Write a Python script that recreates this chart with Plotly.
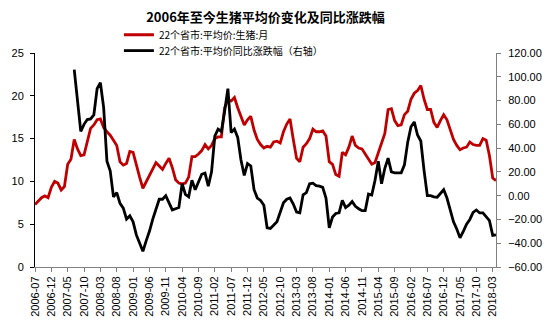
import plotly.graph_objects as go

# monthly categories 2006-07 .. 2018-04
months = []
y, m = 2006, 7
while (y, m) <= (2018, 4):
    months.append(f"{y}-{m:02d}")
    m += 1
    if m > 12:
        m = 1
        y += 1

price = [7.3, 7.7, 8.1, 8.3, 8.1, 9.3, 10.0, 9.8, 9.0, 9.4, 12.0, 12.6,
         14.9, 13.8, 13.0, 13.1, 14.8, 16.2, 16.6, 17.2, 17.3, 16.3, 15.8, 15.4,
         14.8, 14.2, 12.3, 11.9, 12.1, 13.5, 13.4, 11.8, 10.5, 9.2, 10.0, 10.6,
         11.5, 12.2, 11.8, 11.4, 12.1, 12.7, 11.6, 10.2, 9.8, 9.7, 9.8, 10.5,
         12.9, 12.9, 13.2, 13.6, 14.3, 13.8, 14.2, 15.0, 15.2, 15.2, 18.6, 19.5,
         19.4, 19.8, 18.6, 17.5, 16.6, 17.2, 17.6, 16.0, 14.9, 14.3, 13.9, 14.1,
         14.0, 14.6, 14.7, 14.5, 15.8, 16.7, 17.3, 14.9, 12.7, 12.3, 14.0, 14.4,
         15.0, 16.1, 15.8, 15.8, 15.9, 15.3, 12.3, 12.0, 10.8, 10.6, 13.4, 13.1,
         14.0, 15.3, 14.2, 13.9, 13.8, 13.2, 12.6, 12.0, 12.2, 13.4, 14.6, 15.6,
         18.4, 18.5, 17.1, 16.5, 16.6, 17.8, 18.2, 19.6, 20.3, 20.6, 21.2, 19.6,
         18.4, 18.4, 16.9, 16.3, 17.1, 17.8, 17.2, 16.0, 14.9, 14.2, 13.7, 13.9,
         14.0, 14.6, 14.3, 14.2, 14.2, 15.0, 14.8, 13.0, 10.4, 10.1]

yoy = [None] * 12 + [
    106, 80, 54, 60, 64, 64.5, 68, 90, 95, 74, 29, 21,
    -1, 2.6, -6.5, -10.5, -19.7, -17, -22, -33, -39.5, -46.8, -38, -30,
    -20, -12, -3, -3, 0, -6, -12, -11, -10, 10, 1, -1,
    13, 5, 12, 18, 19, 8, 20, 50, 56, 54, 71, 90,
    53, 56, 49, 30, 17, 27, 25, 5, -2, -4, -8, -27,
    -27.6, -25, -22, -14, -6, -3, -2, -7, -13.7, -14.4, 0.8, 2.6,
    10, 10.5, 8.4, 8, 7, -2, -27, -18, -15, -14.4, -4, -10,
    -8, -5, -9, -11, -12.6, -12.6, 1.3, 0.5, 13, 29, 10, 23,
    31.6, 20, 19.2, 19.2, 19.2, 26, 45, 58, 62, 51, 46, 21,
    0, 0, -1, -1.3, 2, 5, -2, -12, -22, -28, -35.5, -30,
    -24, -20, -14, -12, -14.5, -14.5, -18, -21, -33.5, -33]

tick_labels = months[::5]

name_price = "22个省市:平均价:生猪:月"
name_yoy = "22个省市:平均价同比涨跌幅（右轴）"
title_text = "2006年至今生猪平均价变化及同比涨跌幅"

fig = go.Figure()
fig.add_trace(go.Scatter(x=months, y=price, name=name_price, mode="lines",
                         line=dict(color="#c00000", width=2.8), legend="legend"))
fig.add_trace(go.Scatter(x=months, y=yoy, name=name_yoy, mode="lines",
                         line=dict(color="#000000", width=2.8), yaxis="y2",
                         legend="legend2"))

axis_font = dict(family="Liberation Sans, Arial", size=11, color="#000")
leg_font = dict(family="Noto Sans CJK SC", size=10, color="#000")
fig.update_layout(
    width=554, height=329,
    margin=dict(l=33, r=48, t=53, b=48),
    paper_bgcolor="white", plot_bgcolor="white",
    title=dict(text=f"<b>{title_text}</b>", x=0.5, xref="paper",
               y=1 - 17 / 329, yref="container", yanchor="middle",
               font=dict(family="Noto Sans CJK SC", size=13, color="#000")),
    showlegend=True,
    legend=dict(x=0.182, y=1.153, xanchor="left", yanchor="top",
                bgcolor="rgba(0,0,0,0)", font=leg_font),
    legend2=dict(x=0.182, y=1.079, xanchor="left", yanchor="top",
                 bgcolor="rgba(0,0,0,0)", font=leg_font),
    xaxis=dict(type="category", range=[0, len(months) - 1],
               tickmode="array", tickvals=tick_labels, ticktext=tick_labels,
               tickangle=-90, ticks="outside", ticklen=4, tickcolor="#808080",
               showline=True, linecolor="#808080", linewidth=1,
               showgrid=False, zeroline=False, tickfont=axis_font),
    yaxis=dict(range=[0, 25], dtick=5, ticks="outside", ticklen=4,
               tickcolor="#000", showline=True, linecolor="#000", linewidth=1,
               showgrid=False, zeroline=False, tickfont=axis_font,
               ticklabelstandoff=4),
    yaxis2=dict(range=[-60, 120], dtick=20, overlaying="y", side="right",
                tickformat=".2f", ticks="outside", ticklen=4,
                tickcolor="#808080", showline=True, linecolor="#808080",
                linewidth=1, showgrid=False, zeroline=False, tickfont=axis_font,
                ticklabelstandoff=5),
)

fig.write_html("out.html")
